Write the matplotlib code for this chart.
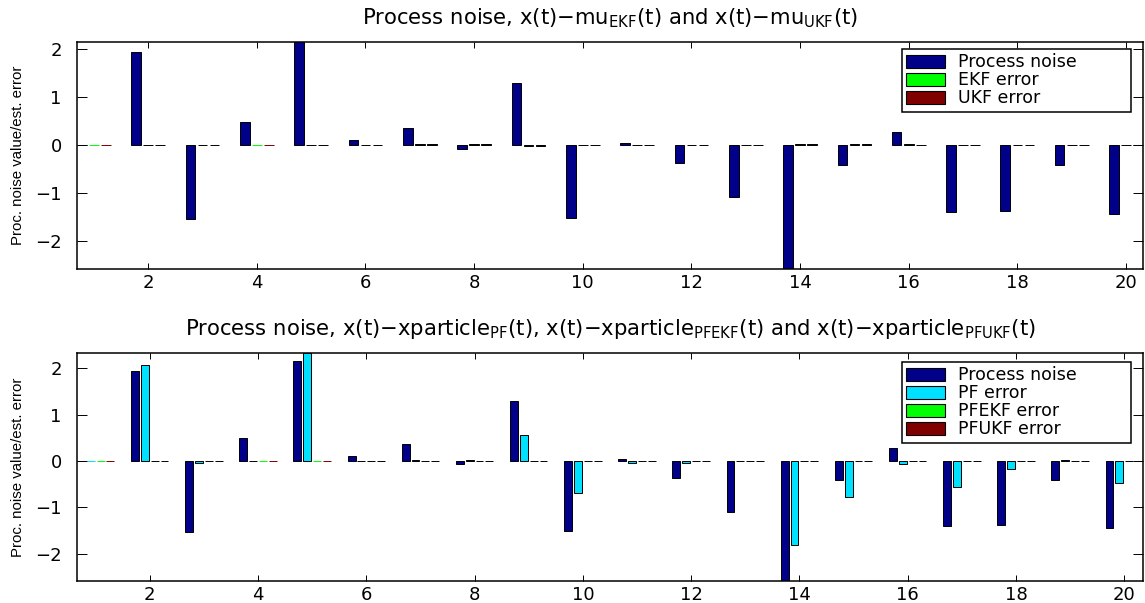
import numpy as np
import matplotlib
matplotlib.use("Agg")
import matplotlib.pyplot as plt
from matplotlib import font_manager

# time steps
t = np.arange(1, 21)

# values
process_noise = [0.00, 1.95, -1.53, 0.49, 2.16, 0.11, 0.36, -0.07, 1.30, -1.51,
                 0.04, -0.37, -1.09, -2.58, -0.42, 0.28, -1.40, -1.37, -0.42, -1.44]
ekf_err = [0.00, 0.01, 0.01, 0.00, 0.01, 0.01, 0.02, 0.02, -0.01, 0.01,
           0.01, 0.01, 0.01, 0.02, 0.02, 0.02, 0.01, 0.01, 0.01, 0.01]
ukf_err = [0.00, 0.01, 0.01, 0.00, 0.01, 0.01, 0.02, 0.02, -0.01, 0.01,
           0.01, 0.01, 0.01, 0.02, 0.02, 0.01, 0.01, 0.01, 0.01, 0.01]
pf_err = [0.00, 2.07, -0.04, -0.01, 2.32, 0.01, 0.03, 0.03, 0.55, -0.68,
          -0.05, -0.04, 0.01, -1.82, -0.78, -0.06, -0.55, -0.18, 0.03, -0.47]
pfekf_err = [0.00, 0.01, -0.01, 0.00, 0.00, -0.01, 0.01, 0.01, 0.01, 0.01,
             0.01, 0.01, 0.01, 0.01, 0.01, 0.01, 0.01, 0.01, 0.01, 0.01]
pfukf_err = [0.00, 0.01, -0.01, 0.00, 0.00, -0.01, 0.01, 0.01, 0.01, 0.01,
             0.01, 0.01, 0.01, 0.01, 0.01, 0.01, 0.01, 0.01, 0.01, 0.01]

top_labels = ["Process noise", "EKF error", "UKF error"]
bot_labels = ["Process noise", "PF error", "PFEKF error", "PFUKF error"]
top_colors = ["#000088", "#00ff00", "#800000"]
bot_colors = ["#000088", "#00e0ff", "#00ff00", "#800000"]

plt.rcParams['font.family'] = ['DejaVu Sans']
plt.rcParams['mathtext.fontset'] = 'dejavusans'
plt.rcParams['axes.unicode_minus'] = True

YLAB = 'Proc. noise value/est. error'
try:
    font_manager.findfont('Liberation Sans Narrow', fallback_to_default=False)
    ylab_font = 'Liberation Sans Narrow'
except Exception:
    ylab_font = 'Liberation Sans'


def grouped_bars(ax, series, labels, colors, leg_top):
    n = len(series)
    gw = min(0.8, n / (n + 1.5))
    w = gw / n * 0.8
    for i, (vals, lab, col) in enumerate(zip(series, labels, colors)):
        off = (i - (n - 1) / 2) * gw / n
        vals = np.asarray(vals)
        edges = [col if v == 0 else 'black' for v in vals]
        ax.bar(t + off, vals, width=w, color=col, edgecolor=edges,
               linewidth=0.7, label=lab)
    lo = t.min() - ((n - 1) / 2 * gw / n + w / 2)
    hi = t.max() + ((n - 1) / 2 * gw / n + w / 2)
    ax.set_xlim(lo, hi)
    allv = np.concatenate([np.asarray(s) for s in series])
    ax.set_ylim(allv.min(), allv.max())
    ax.set_xticks(np.arange(2, 21, 2))
    ax.set_yticks([-2, -1, 0, 1, 2])
    ax.tick_params(axis='both', direction='in', top=True, right=True,
                   width=0.7, labelsize=13)
    ax.tick_params(axis='x', length=4.5, pad=4)
    ax.tick_params(axis='y', length=7, pad=11)
    for sp in ax.spines.values():
        sp.set_linewidth(1.1)
    ax.set_ylabel(YLAB, fontsize=12, family=ylab_font)
    ax.yaxis.set_label_coords(-0.0488, 0.5)
    leg = ax.legend(loc='upper left', bbox_to_anchor=(0.774, 0.0, 0.2148, leg_top),
                    mode='expand', fontsize=12.5, frameon=True, fancybox=False,
                    edgecolor='black', framealpha=1, handlelength=2.2,
                    handleheight=0.75, handletextpad=0.8, labelspacing=0.0,
                    borderpad=0.25, borderaxespad=0.0)
    leg.get_frame().set_linewidth(1.1)
    for hnd in leg.legend_handles:
        hnd.set_edgecolor('black')
        hnd.set_linewidth(0.8)


fig = plt.figure(figsize=(11.45, 6.03), dpi=100)
ax1 = fig.add_axes([0.0672, 0.554, 0.931, 0.377])
ax2 = fig.add_axes([0.0672, 0.037, 0.931, 0.377])

grouped_bars(ax1, [process_noise, ekf_err, ukf_err], top_labels, top_colors, 0.968)
ax1.set_title(r'Process noise, x(t)−mu$_{\mathrm{EKF}}$(t) and x(t)−mu$_{\mathrm{UKF}}$(t)',
              fontsize=15.2, pad=12.5)

grouped_bars(ax2, [process_noise, pf_err, pfekf_err, pfukf_err], bot_labels, bot_colors, 0.962)
ax2.set_title(r'Process noise, x(t)−xparticle$_{\mathrm{PF}}$(t), '
              r'x(t)−xparticle$_{\mathrm{PFEKF}}$(t) and x(t)−xparticle$_{\mathrm{PFUKF}}$(t)',
              fontsize=15.2, pad=13.5)

# fit the y label length to about 180 px
fig.canvas.draw()
r = fig.canvas.get_renderer()
for ax in (ax1, ax2):
    lab = ax.yaxis.label
    h = lab.get_window_extent(r).height
    lab.set_fontsize(lab.get_fontsize() * 180.0 / h)

fig.savefig('out.png', dpi=100)
